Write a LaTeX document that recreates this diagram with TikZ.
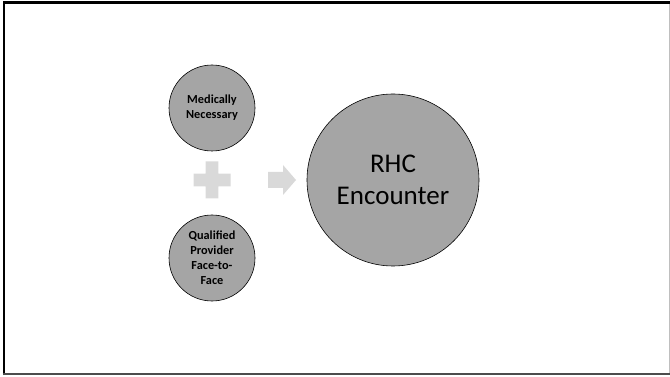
\documentclass[tikz,border=0pt]{standalone}
\usepackage{fontspec}
\setmainfont{Carlito}
\usetikzlibrary{positioning}

\definecolor{discgray}{HTML}{A5A5A5}
\definecolor{signgray}{HTML}{D9D9D9}

\begin{document}
\begin{tikzpicture}[x=1pt, y=-1pt,
    disc/.style={circle, draw=black, line width=0.6pt, fill=discgray,
      inner sep=0pt, align=center, text=black},
    small/.style={disc, minimum size=86pt, font=\fontsize{12.3}{15}\selectfont\bfseries},
    big/.style={disc, minimum size=172pt, font=\fontsize{27}{32}\selectfont},
    sign/.style={fill=signgray, draw=none}]
  \useasboundingbox (0,0) rectangle (670,377);
  % frame
  \draw[line width=2.6pt] (4,375) -- (4,2.6) -- (670,2.6);
  \draw[line width=2pt, black!70] (2.7,374.3) -- (670,374.3);
  \draw[line width=1.2pt, black!25] (669.2,3.8) -- (669.2,373.3);

  \node[small] (med) at (212,108) {Medically\\Necessary};
  \node[small] (prov) at (212,258) {Qualified\\Provider\\Face-to-\\Face};
  \node[big] (rhc) at (393,180) {RHC\\Encounter};

  \coordinate (plus) at (212,180);
  \coordinate (arrow) at (268,180);

  % plus sign
  \fill[sign] (plus) ++(-6.3,-18.5) -- ++(12.6,0) -- ++(0,12.2) -- ++(12.2,0)
    -- ++(0,12.6) -- ++(-12.2,0) -- ++(0,12.2) -- ++(-12.6,0) -- ++(0,-12.2)
    -- ++(-12.2,0) -- ++(0,-12.6) -- ++(12.2,0) -- cycle;
  % arrow
  \fill[sign] (arrow) ++(0,-8) -- ++(15,0) -- ++(0,-7) -- ++(13,15)
    -- ++(-13,15) -- ++(0,-7) -- ++(-15,0) -- cycle;
\end{tikzpicture}
\end{document}
